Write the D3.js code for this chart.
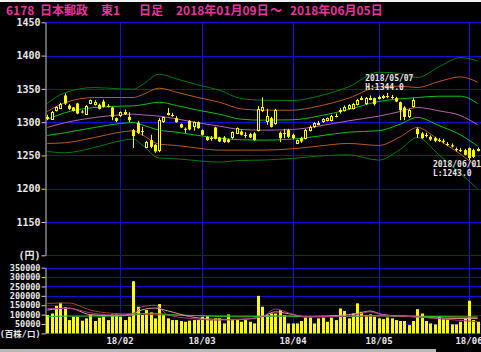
<!DOCTYPE html>
<html>
<head>
<meta charset="utf-8">
<style>
  html, body { margin: 0; padding: 0; background: #000; }
  svg { display: block; }
</style>
<script src="https://cdn.jsdelivr.net/npm/d3@7"></script>
</head>
<body>
<svg id="chart" width="481" height="352"></svg>
<script>
// trading days shown on the chart
var dates = [
  "2018/01/09","2018/01/10","2018/01/11","2018/01/12","2018/01/15","2018/01/16","2018/01/17","2018/01/18","2018/01/19",
  "2018/01/22","2018/01/23","2018/01/24","2018/01/25","2018/01/26","2018/01/29","2018/01/30","2018/01/31",
  "2018/02/01","2018/02/02","2018/02/05","2018/02/06","2018/02/07","2018/02/08","2018/02/09","2018/02/13","2018/02/14",
  "2018/02/15","2018/02/16","2018/02/19","2018/02/20","2018/02/21","2018/02/22","2018/02/23","2018/02/26","2018/02/27","2018/02/28",
  "2018/03/01","2018/03/02","2018/03/05","2018/03/06","2018/03/07","2018/03/08","2018/03/09","2018/03/12","2018/03/13","2018/03/14",
  "2018/03/15","2018/03/16","2018/03/19","2018/03/20","2018/03/22","2018/03/23","2018/03/26","2018/03/27","2018/03/28","2018/03/29","2018/03/30",
  "2018/04/02","2018/04/03","2018/04/04","2018/04/05","2018/04/06","2018/04/09","2018/04/10","2018/04/11","2018/04/12","2018/04/13",
  "2018/04/16","2018/04/17","2018/04/18","2018/04/19","2018/04/20","2018/04/23","2018/04/24","2018/04/25","2018/04/26","2018/04/27",
  "2018/05/01","2018/05/02","2018/05/07","2018/05/08","2018/05/09","2018/05/10","2018/05/11","2018/05/14","2018/05/15","2018/05/16",
  "2018/05/17","2018/05/18","2018/05/21","2018/05/22","2018/05/23","2018/05/24","2018/05/25","2018/05/28","2018/05/29","2018/05/30","2018/05/31",
  "2018/06/01","2018/06/04","2018/06/05"
];

var opens = [1306,1306,1318,1322,1340,1325,1322,1328,1316,1313,1328,1328,1326,1331,1325,1322,1306,
  1310,1314,1308,1288,1299,1286,1263,1273,1266,1258,1301,1313,1311,1306,1297,1290,1302,1294,1300,
  1288,1278,1276,1292,1277,1277,1274,1277,1283,1286,1280,1282,1283,1288,1318,1302,1306,1298,1284,1284,1288,
  1281,1269,1276,1276,1288,1293,1298,1301,1303,1303,1310,1317,1318,1321,1321,1327,1336,1328,1336,1336,
  1337,1338,1339,1338,1336,1330,1322,1309,1324,1290,1283,1281,1278,1276,1273,1272,1267,1265,1259,1258,1258,
  1261,1258,1259];
var highs = [1311,1317,1324,1329,1343,1327,1323,1329,1318,1326,1334,1333,1328,1334,1327,1323,1307,
  1316,1319,1315,1290,1302,1293,1272,1281,1267,1306,1308,1321,1314,1309,1298,1292,1303,1301,1301,
  1289,1279,1279,1293,1278,1279,1275,1286,1292,1288,1285,1284,1285,1324,1337,1320,1308,1320,1286,1290,1290,
  1283,1274,1278,1290,1295,1300,1302,1306,1307,1311,1313,1321,1325,1327,1329,1335,1339,1338,1340,1337,
  1340,1341,1344,1341,1338,1331,1324,1320,1336,1292,1285,1284,1280,1278,1276,1275,1270,1268,1262,1261,1260,
  1262,1260,1262];
var lows = [1303,1304,1316,1320,1326,1318,1316,1312,1313,1311,1327,1325,1319,1322,1322,1303,1300,
  1308,1311,1300,1261,1282,1280,1261,1261,1254,1255,1299,1310,1308,1299,1291,1284,1288,1287,1290,
  1280,1272,1272,1274,1270,1269,1269,1275,1282,1280,1276,1276,1272,1286,1315,1296,1292,1296,1270,1276,1276,
  1274,1267,1269,1274,1286,1291,1295,1299,1301,1301,1307,1313,1316,1319,1319,1325,1333,1326,1333,1325,
  1334,1335,1336,1335,1330,1303,1303,1306,1322,1276,1275,1277,1272,1270,1270,1268,1264,1262,1256,1255,1250,
  1243,1246,1256];
var closes = [1307,1316,1323,1328,1328,1320,1317,1313,1315,1325,1333,1331,1320,1323,1325,1308,1302,
  1315,1315,1303,1279,1284,1286,1270,1263,1256,1303,1307,1314,1311,1300,1292,1289,1289,1300,1291,
  1281,1273,1276,1275,1271,1270,1270,1285,1291,1281,1280,1277,1273,1320,1323,1310,1293,1318,1276,1284,1278,
  1276,1273,1271,1288,1293,1298,1299,1304,1306,1309,1310,1318,1323,1326,1327,1333,1337,1336,1337,1327,
  1338,1339,1339,1338,1331,1318,1308,1318,1333,1282,1276,1281,1274,1272,1273,1271,1267,1264,1259,1257,1251,
  1246,1248,1260];

var volumes = [98000,106000,147000,163000,139000,71000,89000,89000,68000,80000,98000,66000,84000,89000,71000,101000,101000,
  89000,71000,89000,278000,142000,98000,124000,112000,80000,156000,98000,80000,71000,71000,66000,62000,68000,71000,71000,
  89000,92000,71000,80000,80000,53000,101000,71000,71000,62000,71000,62000,53000,200000,142000,98000,106000,106000,124000,98000,53000,
  53000,53000,66000,84000,84000,53000,80000,84000,62000,84000,71000,133000,119000,80000,106000,160000,115000,98000,101000,89000,
  80000,76000,85000,80000,71000,66000,66000,44000,66000,129000,106000,66000,53000,48000,89000,76000,76000,48000,48000,62000,80000,
  174000,71000,62000];

// bollinger bands: centre line and one sigma, at sample days
var bandDay = [0, 4, 11, 17, 20, 22, 26, 30, 35, 40, 45, 50, 57, 63, 70, 77, 82, 86, 91, 96, 100];
var bandMid = [1292, 1299, 1307, 1311, 1312, 1311, 1309, 1305, 1299, 1294, 1289, 1288, 1289, 1294, 1302, 1309, 1316, 1322, 1317, 1310, 1296];
var bandSd  = [12, 15, 15, 13, 12.5, 15, 21, 20, 19, 18, 15.5, 15, 14.5, 15, 17, 22, 19, 15, 22, 29, 32];

// volume moving averages at sample days
var volMaDay = [0, 5, 10, 15, 20, 22, 25, 28, 33, 40, 45, 50, 53, 56, 60, 70, 72, 75, 78, 85, 95, 100];
var volMaA = [133000,133000,110000,98000,107000,142000,150000,100000,80000,71000,75000,89000,130000,110000,89000,92000,101000,115000,98000,89000,71000,62000];
var volMaB = [124000,135000,100000,95000,105000,125000,135000,120000,90000,75000,75000,90000,115000,105000,90000,100000,106000,119000,100000,89000,80000,80000];
var volMaC = [89000,92000,92000,92000,98000,105000,107000,100000,96000,90000,88000,90000,92000,92000,88000,90000,92000,95000,94000,92000,88000,86000];
var volMaD = [160000,162000,124000,107000,103000,103000,100000,98000,96000,94000,92000,92000,92000,92000,90000,90000,90000,92000,92000,90000,88000,88000];

var priceTicks = [1450, 1400, 1350, 1300, 1250, 1200, 1150, 1100];
var volumeTicks = [350000, 300000, 250000, 200000, 150000, 100000, 50000, 0];
var monthStarts = ["2018/02/01", "2018/03/01", "2018/04/02", "2018/05/01", "2018/06/01"];
var monthLabels = ["18/02", "18/03", "18/04", "18/05", "18/06"];

var highDay = "2018/05/07", highValue = 1344.0;
var lowDay = "2018/06/01", lowValue = 1243.0;

var svg = d3.select("#chart");
var W = 481, H = 352;
var blue = "#1212cc", yellow = "#ffff00";
var mono = "'DejaVu Sans Mono', 'Noto Sans CJK JP', monospace";

svg.append("rect").attr("width", W).attr("height", H).attr("fill", "#000");
svg.append("rect").attr("width", W).attr("height", 2).attr("fill", "#f0f0f0");
svg.append("rect").attr("y", 349).attr("width", 436).attr("height", 3).attr("fill", "#b8b8b8");

var x = d3.scalePoint().domain(dates).range([47.3, 477.6]);
var y = d3.scaleLinear().domain([1100, 1450]).range([255.3, 22.3]);
var yv = d3.scaleLinear().domain([0, 350000]).range([333.4, 267.7]);
var px = function(d) { return Math.round(x(d)); };

// grid
var grid = svg.append("g").attr("stroke", blue).attr("stroke-width", 1);
grid.selectAll(".hp").data(priceTicks).enter().append("line")
    .attr("x1", 45).attr("x2", W)
    .attr("y1", function(d) { return Math.round(y(d)) + 0.5; })
    .attr("y2", function(d) { return Math.round(y(d)) + 0.5; });
grid.selectAll(".hv").data(volumeTicks).enter().append("line")
    .attr("x1", 45).attr("x2", W)
    .attr("y1", function(d) { return Math.round(yv(d)) + 0.5; })
    .attr("y2", function(d) { return Math.round(yv(d)) + 0.5; });
grid.selectAll(".vm").data(monthStarts).enter().append("line")
    .attr("x1", function(d) { return px(d) + 0.5; })
    .attr("x2", function(d) { return px(d) + 0.5; })
    .attr("y1", Math.round(y(1450))).attr("y2", 337);

// axes
function styleAxis(g) {
  g.select(".domain").attr("stroke", "#c8c8c8");
  g.selectAll(".tick line").attr("stroke", "#c8c8c8");
  g.selectAll(".tick text").attr("fill", "#e8e8e8")
    .attr("font-family", mono).attr("font-weight", "bold");
}
svg.append("g")
    .attr("transform", "translate(45.5,0)")
    .call(d3.axisLeft(y).tickValues(priceTicks).tickSize(4).tickSizeOuter(0).tickPadding(1)
      .tickFormat(function(d) { return d === 1100 ? "(円)" : d; }))
    .call(styleAxis)
    .call(function(g) { g.selectAll(".tick text").attr("font-size", 10); });
svg.append("g")
    .attr("transform", "translate(45.5,0)")
    .call(d3.axisLeft(yv).tickValues(volumeTicks).tickSize(4).tickSizeOuter(0).tickPadding(1)
      .tickFormat(function(d) { return d === 0 ? "(百株/口)" : d; }))
    .call(styleAxis)
    .call(function(g) { g.selectAll(".tick text").attr("font-size", 8.5); });

svg.append("g").selectAll("text").data(monthStarts).enter().append("text")
    .attr("x", function(d) { return px(d); })
    .attr("y", 344)
    .attr("text-anchor", "middle")
    .attr("font-family", mono).attr("font-weight", "bold").attr("font-size", 9)
    .attr("fill", "#e8e8e8")
    .text(function(d, i) { return monthLabels[i]; });

// bollinger bands
var bands = [
  { k: 3, color: "#007a10" }, { k: 2, color: "#b85a22" }, { k: 1, color: "#14c014" },
  { k: 0, color: "#b466b4" },
  { k: -1, color: "#14c014" }, { k: -2, color: "#b85a22" }, { k: -3, color: "#007a10" }
];
var bandLine = d3.line().curve(d3.curveMonotoneX);
svg.append("g").selectAll("path").data(bands).enter().append("path")
    .attr("fill", "none").attr("stroke-width", 1)
    .attr("stroke", function(b) { return b.color; })
    .attr("d", function(b) {
      return bandLine(bandDay.map(function(d, j) {
        return [x(dates[d]), y(bandMid[j] + b.k * bandSd[j])];
      }));
    });

// candles
var candles = svg.append("g").selectAll("g").data(dates).enter().append("g");
candles.append("line")
    .attr("stroke", yellow)
    .attr("x1", function(d) { return px(d) + 0.5; })
    .attr("x2", function(d) { return px(d) + 0.5; })
    .attr("y1", function(d, i) { return y(highs[i]); })
    .attr("y2", function(d, i) { return y(lows[i]); });
candles.each(function(d, i) {
  var g = d3.select(this), c = px(d);
  var top = y(Math.max(opens[i], closes[i])), bot = y(Math.min(opens[i], closes[i]));
  if (closes[i] === opens[i]) {
    g.append("line").attr("stroke", yellow)
      .attr("x1", c - 1).attr("x2", c + 2)
      .attr("y1", Math.round(top) + 0.5).attr("y2", Math.round(top) + 0.5);
  } else if (closes[i] > opens[i]) {
    g.append("rect")
      .attr("x", c - 0.5).attr("width", 2)
      .attr("y", Math.round(top) + 0.5).attr("height", Math.max(1, Math.round(bot - top)))
      .attr("fill", "#000").attr("stroke", yellow);
  } else {
    g.append("rect")
      .attr("x", c - 1).attr("width", 3)
      .attr("y", top).attr("height", Math.max(1, bot - top))
      .attr("fill", yellow);
  }
});

// volume
svg.append("g").selectAll("rect").data(dates).enter().append("rect")
    .attr("x", function(d) { return px(d) - 1; })
    .attr("width", 3)
    .attr("y", function(d, i) { return yv(volumes[i]); })
    .attr("height", function(d, i) { return yv(0) - yv(volumes[i]); })
    .attr("fill", yellow);

var volLines = [
  { v: volMaD, color: "#a0481c" }, { v: volMaC, color: "#22c022" },
  { v: volMaB, color: "#e89a9a" }, { v: volMaA, color: "#a83c8c" }
];
svg.append("g").selectAll("path").data(volLines).enter().append("path")
    .attr("fill", "none").attr("stroke-width", 1)
    .attr("stroke", function(s) { return s.color; })
    .attr("d", function(s) {
      return bandLine(volMaDay.map(function(d, j) { return [x(dates[d]), yv(s.v[j])]; }));
    });

// high / low notes
var notes = svg.append("g")
    .attr("font-family", mono).attr("font-weight", "bold").attr("font-size", 8)
    .attr("fill", "#e8e8e8");
notes.append("text").attr("x", x(highDay) - 22).attr("y", y(highValue) - 11.5).text(highDay);
notes.append("text").attr("x", x(highDay) - 22).attr("y", y(highValue) - 3).text("H:" + highValue.toFixed(1));
notes.append("text").attr("x", x(lowDay) - 36).attr("y", y(lowValue) + 7).text(lowDay);
notes.append("text").attr("x", x(lowDay) - 36).attr("y", y(lowValue) + 15.5).text("L:" + lowValue.toFixed(1));

// title
var titleParts = [
  { t: "6178", x: 6 }, { t: "日本郵政", x: 40 }, { t: "東1", x: 101 }, { t: "日足", x: 139 },
  { t: "2018年01月09日", x: 176 }, { t: "～", x: 270 }, { t: "2018年06月05日", x: 290 }
];
svg.append("g")
    .attr("font-family", "'Noto Sans CJK JP', sans-serif").attr("font-size", 12)
    .attr("font-weight", "bold").attr("fill", "#e6369c")
  .selectAll("text").data(titleParts).enter().append("text")
    .attr("x", function(d) { return d.x; }).attr("y", 15)
    .text(function(d) { return d.t; });
</script>
</body>
</html>
